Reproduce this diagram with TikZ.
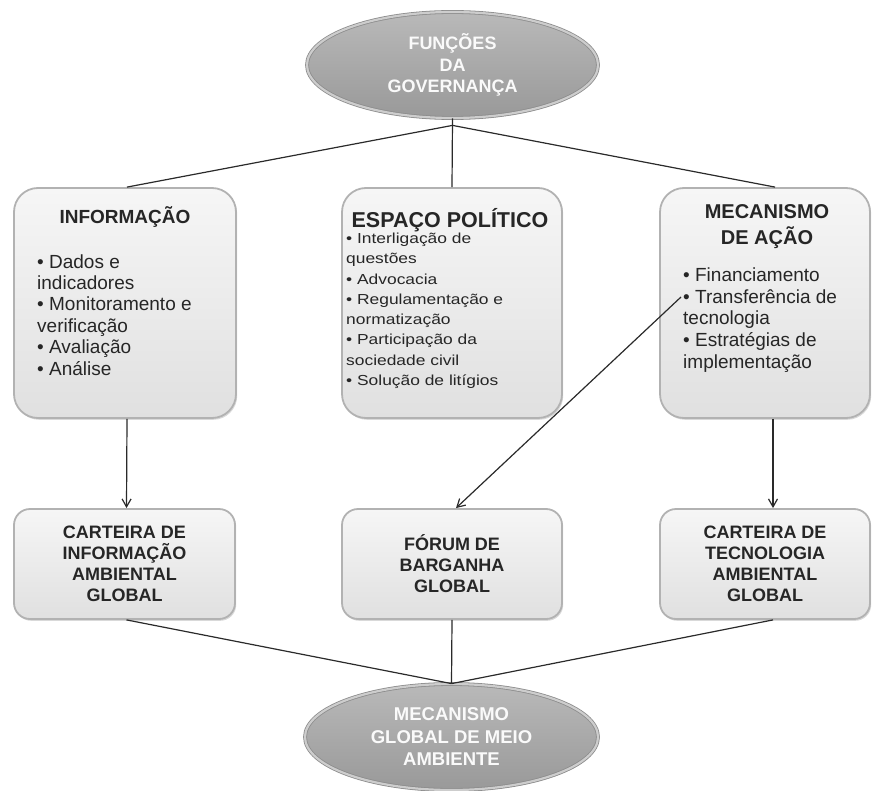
\documentclass[tikz,border=0pt]{standalone}
\usepackage{fontspec}
\setmainfont{Liberation Sans}
\newfontfamily\midfont[FakeStretch=1.2]{Liberation Sans}
\usetikzlibrary{shapes.geometric,shadows,arrows.meta}
\definecolor{boxtop}{HTML}{F6F6F6}
\definecolor{boxbot}{HTML}{E0E0E0}
\definecolor{boxline}{HTML}{B2B2B2}
\definecolor{ovaltop}{HTML}{B9B9B9}
\definecolor{ovalbot}{HTML}{999999}
\definecolor{ovalline}{HTML}{8C8C8C}
\definecolor{ovalring}{HTML}{CDCDCD}
\definecolor{linec}{HTML}{2A2A2A}
\definecolor{ovaltext}{HTML}{FAFAFA}
\begin{document}
\begin{tikzpicture}[x=1pt,y=-1pt,
  box/.style={draw=boxline, line width=1.8pt, top color=boxtop, bottom color=boxbot,
    inner sep=0pt, drop shadow={shadow xshift=1.2pt, shadow yshift=-1.8pt, opacity=0.3}},
  bigbox/.style={box, rounded corners=24pt, minimum height=230pt},
  smallbox/.style={box, rounded corners=16pt, minimum height=110pt, align=center,
    font=\fontsize{18}{21}\selectfont\bfseries, text=black!85},
  oval/.style={ellipse, draw=ovalline, line width=0.8pt, double=ovalring, double distance=2.2pt,
    top color=ovaltop, bottom color=ovalbot, inner sep=0pt, minimum height=106pt,
    text=ovaltext, align=center,
    drop shadow={shadow xshift=1pt, shadow yshift=-1.5pt, opacity=0.25}},
  titlef/.style={inner sep=0pt, font=\bfseries, text=black!85},
  itemf/.style={inner sep=0pt, anchor=north west, align=left, text=black!85},
  link/.style={draw=linec, line width=1.2pt},
  arr/.style={link, -{Straight Barb[length=8pt,width=9pt]}}
]
\useasboundingbox (0,0) rectangle (874,791);

% ovals
\node[oval, minimum width=291pt, font=\fontsize{18}{21.5}\selectfont\bfseries] (top) at (452.5,65)
  {FUNÇÕES\\DA\\GOVERNANÇA};
\node[oval, minimum width=293pt, font=\fontsize{18.5}{22.5}\selectfont\bfseries] (bot) at (451.5,737)
  {MECANISMO\\GLOBAL DE MEIO\\AMBIENTE};

% upper boxes
\node[bigbox, minimum width=222pt] (inf) at (125,303) {};
\node[bigbox, minimum width=220pt] (esp) at (452,303) {};
\node[bigbox, minimum width=210pt] (mec) at (765,303) {};

% lower boxes
\node[smallbox, minimum width=221pt] (cinf) at (124.5,564)
  {CARTEIRA DE\\INFORMAÇÃO\\AMBIENTAL\\GLOBAL};
\node[smallbox, minimum width=220pt] (forum) at (452,564)
  {FÓRUM DE\\BARGANHA\\GLOBAL};
\node[smallbox, minimum width=210pt] (ctec) at (765,564)
  {CARTEIRA DE\\TECNOLOGIA\\AMBIENTAL\\GLOBAL};

% texts of the upper boxes
\node[titlef, anchor=base, font=\fontsize{19}{21}\selectfont\bfseries] (infT) at (125,224) {INFORMAÇÃO};
\node[itemf, font=\fontsize{19}{21.4}\selectfont] (infI) at (37,253)
  {\strut• Dados e\\indicadores\\• Monitoramento e\\verificação\\• Avaliação\\• Análise};

\node[titlef, anchor=base, font=\fontsize{21.5}{24}\selectfont\bfseries] (espT) at (450,228) {ESPAÇO POLÍTICO};
\node[itemf, font=\fontsize{14.5}{20.3}\midfont] (espI) at (346,229)
  {\strut• Interligação de\\questões\\• Advocacia\\• Regulamentação e\\normatização\\• Participação da\\sociedade civil\\• Solução de litígios};

\node[titlef, anchor=north, align=center, font=\fontsize{20}{21}\selectfont\bfseries] (mecT) at (767,204)
  {\strut MECANISMO\\DE AÇÃO};
\node[itemf, font=\fontsize{19}{21.75}\selectfont] (mecI) at (683,266)
  {\strut• Financiamento\\• Transferência de\\tecnologia\\• Estratégias de\\implementação};

% connectors
\coordinate (tj) at ([yshift=-7pt]top.south);
\coordinate (tb) at (681,297);
\draw[link] (top.south) -- (esp.north);
\draw[link] (tj) -- ([xshift=2pt]inf.north);
\draw[link] (tj) -- ([xshift=10pt]mec.north);

\draw[arr] ([xshift=2pt]inf.south) -- ([xshift=2pt]cinf.north);
\draw[arr] ([xshift=8pt]mec.south) -- ([xshift=8pt]ctec.north);
\draw[arr] (tb) -- ([xshift=4pt]forum.north);

\draw[link] ([xshift=2pt]cinf.south) -- (bot.north);
\draw[link] (forum.south) -- (bot.north);
\draw[link] ([xshift=8pt]ctec.south) -- (bot.north);
\end{tikzpicture}
\end{document}
